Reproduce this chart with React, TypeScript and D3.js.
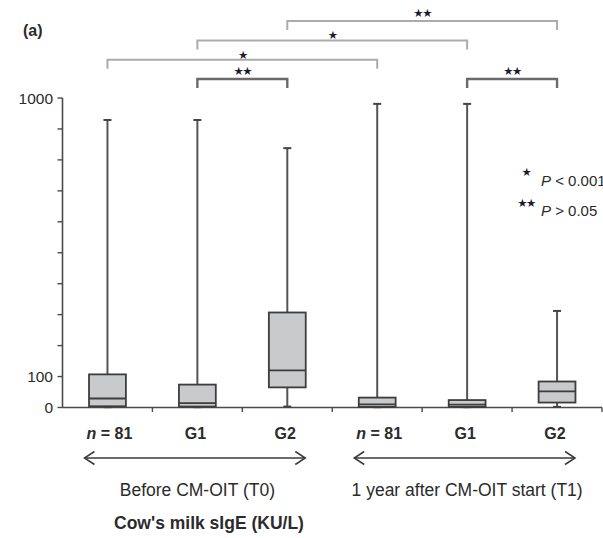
import React from "react";
import * as d3 from "d3";

// Cow's milk sIgE (KU/L) box plots, before (T0) and 1 year after (T1) CM-OIT start
const categories = ["T0 all", "T0 G1", "T0 G2", "T1 all", "T1 G1", "T1 G2"];
const groupLabels = ["81", "G1", "G2", "81", "G1", "G2"];
const whiskerLow = [1, 1, 3, 1, 1, 2];
const q1 = [4, 3, 65, 2, 2, 16];
const median = [29, 14, 120, 10, 9, 52];
const q3 = [107, 74, 307, 32, 24, 84];
const whiskerHigh = [929, 929, 838, 981, 981, 312];

const yTicks = d3.range(0, 1001, 100);
const yTickLabels = [0, 100, 1000];

// pairwise comparisons: from/to category index, stacking level, significance mark
const compFrom = [1, 4, 0, 1, 2];
const compTo = [2, 5, 3, 4, 5];
const compLevel = [0, 0, 1, 2, 3];
const compMark = ["★★", "★★", "★", "★", "★★"];

const periods = ["Before CM-OIT (T0)", "1 year after CM-OIT start (T1)"];
const periodSpan = [
  [0, 2],
  [3, 5],
];

const legendMarks = ["★", "★★"];
const legendTexts = ["< 0.001", "> 0.05"];

const W = 603;
const H = 538;
const FONT = "'Liberation Sans', Arial, Helvetica, sans-serif";
const INK = "#2b2b2b";
const LINE = "#4a4a4a";
const STAR = "#1c1c30";

export default function App() {
  const x = d3.scaleBand<string>().domain(categories).range([62.5, 602]).padding(0);
  const y = d3.scaleLinear().domain([0, 1000]).range([407.5, 98]);
  const bw = x.bandwidth();
  const boxW = bw * 0.41;
  const cx = (i: number) => (x(categories[i]) as number) + bw / 2;

  const levelY = (lv: number) => 79 - lv * 19.3;
  const arrowY = 458;
  const arrowLine = d3.line<[number, number]>();

  return (
    <svg
      width={W}
      height={H}
      viewBox={`0 0 ${W} ${H}`}
      style={{ position: "absolute", left: 0, top: 0, background: "#fff" }}
      fontFamily={FONT}
    >
      <text x={23} y={36} fontSize={16} fontWeight="bold" fill={INK}>
        (a)
      </text>

      {/* comparison brackets */}
      {compFrom.map((f, k) => {
        const x0 = cx(f);
        const x1 = cx(compTo[k]);
        const yy = levelY(compLevel[k]);
        const dark = compLevel[k] === 0;
        const mark = compMark[k];
        return (
          <g key={"cmp" + k}>
            <path
              d={arrowLine([
                [x0, yy + 9],
                [x0, yy],
                [x1, yy],
                [x1, yy + 9],
              ]) as string}
              fill="none"
              stroke={dark ? "#6a6a6a" : "#ababab"}
              strokeWidth={dark ? 2.4 : 2}
            />
            <text
              x={(x0 + x1) / 2}
              y={yy - (mark.length > 1 ? 4.5 : 1)}
              textAnchor="middle"
              fontSize={11.5}
              fill={STAR}
              fontFamily="'DejaVu Sans', sans-serif"
              letterSpacing={-1.5}
            >
              {mark}
            </text>
          </g>
        );
      })}

      {/* y axis */}
      <line x1={62.5} x2={62.5} y1={y(1000)} y2={y(0)} stroke={LINE} strokeWidth={1.6} />
      {yTicks.map((t) => (
        <line key={"yt" + t} x1={57.5} x2={62.5} y1={y(t)} y2={y(t)} stroke={LINE} strokeWidth={1.4} />
      ))}
      {yTickLabels.map((t) => (
        <text
          key={"yl" + t}
          x={53}
          y={y(t)}
          dy="0.36em"
          textAnchor="end"
          fontSize={15.5}
          fill={INK}
        >
          {t}
        </text>
      ))}

      {/* x axis */}
      <line x1={62.5} x2={602} y1={y(0)} y2={y(0)} stroke={LINE} strokeWidth={1.6} />
      {categories.map((c) => {
        const bx = (x(c) as number) + bw;
        return <line key={"xt" + c} x1={bx} x2={bx} y1={y(0)} y2={y(0) + 4.5} stroke={LINE} strokeWidth={1.4} />;
      })}

      {/* box plots */}
      {categories.map((c, i) => {
        const m = cx(i);
        return (
          <g key={"box" + c}>
            <line x1={m} x2={m} y1={y(whiskerHigh[i])} y2={y(q3[i])} stroke="#555" strokeWidth={2} />
            <line x1={m} x2={m} y1={y(q1[i])} y2={y(whiskerLow[i])} stroke="#555" strokeWidth={2} />
            <line x1={m - 4} x2={m + 4} y1={y(whiskerHigh[i])} y2={y(whiskerHigh[i])} stroke="#444" strokeWidth={2} />
            <line x1={m - 4} x2={m + 4} y1={y(whiskerLow[i])} y2={y(whiskerLow[i])} stroke="#444" strokeWidth={2} />
            <rect
              x={m - boxW / 2}
              y={y(q3[i])}
              width={boxW}
              height={y(q1[i]) - y(q3[i])}
              fill="#c9cacc"
              stroke="#3d3d3d"
              strokeWidth={1.8}
            />
            <line
              x1={m - boxW / 2}
              x2={m + boxW / 2}
              y1={y(median[i])}
              y2={y(median[i])}
              stroke="#3d3d3d"
              strokeWidth={1.8}
            />
          </g>
        );
      })}

      {/* category labels */}
      {categories.map((c, i) => {
        const isN = groupLabels[i] === "81";
        return (
          <text
            key={"xl" + c}
            x={cx(i) + (isN ? 2 : -2)}
            y={433}
            dy="0.36em"
            textAnchor="middle"
            fontSize={16}
            fontWeight="bold"
            fill={INK}
          >
            {isN ? (
              <>
                <tspan fontStyle="italic">n</tspan>
                <tspan> = {groupLabels[i]}</tspan>
              </>
            ) : (
              groupLabels[i]
            )}
          </text>
        );
      })}

      {/* period arrows and labels */}
      {periods.map((p, k) => {
        const xa = cx(periodSpan[k][0]) - 23;
        const xb = cx(periodSpan[k][1]) + 18;
        const mid = (cx(periodSpan[k][0]) + cx(periodSpan[k][1])) / 2;
        return (
          <g key={"per" + k}>
            <path
              d={arrowLine([
                [xa, arrowY],
                [xb, arrowY],
              ]) as string}
              stroke="#3a3a3a"
              strokeWidth={1.5}
              fill="none"
            />
            <path
              d={arrowLine([
                [xa + 10, arrowY - 6.5],
                [xa, arrowY],
                [xa + 10, arrowY + 6.5],
              ]) as string}
              stroke="#3a3a3a"
              strokeWidth={1.5}
              fill="none"
            />
            <path
              d={arrowLine([
                [xb - 10, arrowY - 6.5],
                [xb, arrowY],
                [xb - 10, arrowY + 6.5],
              ]) as string}
              stroke="#3a3a3a"
              strokeWidth={1.5}
              fill="none"
            />
            <text x={mid} y={490} dy="0.36em" textAnchor="middle" fontSize={17.5} fill={INK}>
              {p}
            </text>
          </g>
        );
      })}

      <text x={209} y={523} dy="0.36em" textAnchor="middle" fontSize={17.5} fontWeight="bold" fill={INK}>
        Cow's milk sIgE (KU/L)
      </text>

      {/* significance legend */}
      {legendMarks.map((mk, k) => (
        <g key={"lg" + k}>
          <text
            x={526}
            y={172 + k * 31}
            dy="0.36em"
            textAnchor="middle"
            fontSize={11.5}
            fill={STAR}
            fontFamily="'DejaVu Sans', sans-serif"
            letterSpacing={-1.5}
          >
            {mk}
          </text>
          <text x={541} y={181 + k * 30} dy="0.36em" fontSize={15} fill={INK}>
            <tspan fontStyle="italic">P</tspan>
            <tspan> {legendTexts[k]}</tspan>
          </text>
        </g>
      ))}
    </svg>
  );
}
